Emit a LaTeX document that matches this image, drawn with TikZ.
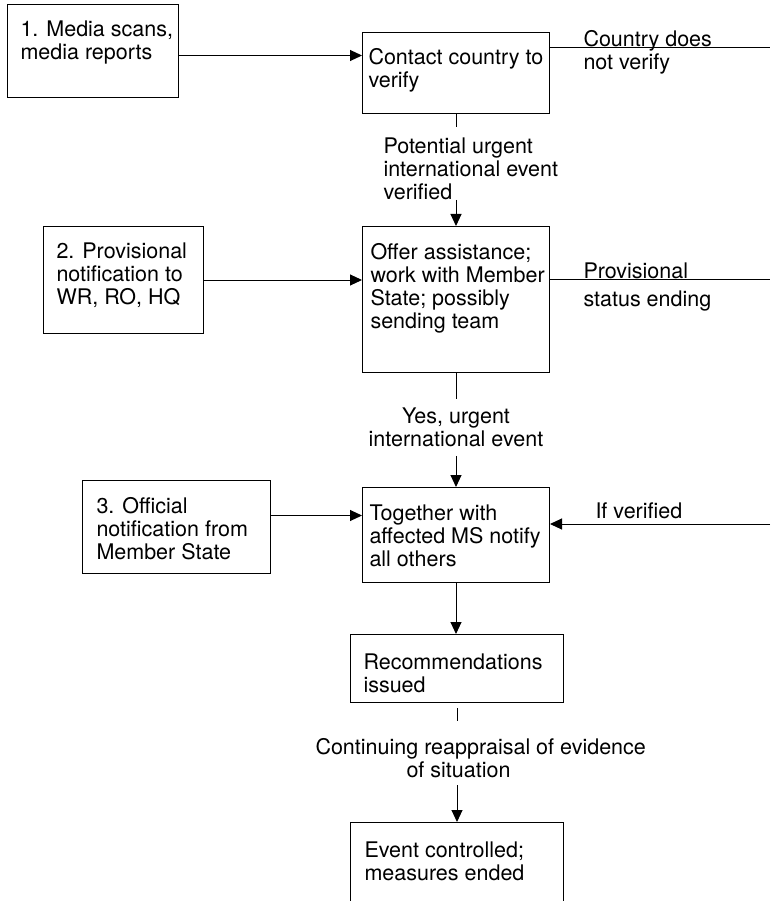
\documentclass[tikz,border=0pt]{standalone}
\usepackage{fontspec}
\setmainfont{TeX Gyre Heros}
\usepackage{tikz}
\usetikzlibrary{positioning}
\usetikzlibrary{arrows.meta}

\begin{document}
\begin{tikzpicture}[
    x=1pt, y=-1pt,
    font=\fontsize{21.5pt}{23pt}\selectfont,
    frame/.style={draw,line width=1pt,anchor=north west,inner sep=0pt},
    boxtext/.style={align=left,inner sep=0pt},
    lbl/.style={align=left,inner sep=0pt,anchor=north west},
    arr/.style={-{Triangle[length=12pt,width=11pt]}},
    every path/.style={line width=1pt}
    ]
    \useasboundingbox (0,0) rectangle (770,901);

    % boxes
    \node[frame, minimum width=171pt, minimum height=93pt] (media) at (7,4) {};
    \node[frame, minimum width=187pt, minimum height=81pt] (contact) at (362,32) {};
    \node[frame, minimum width=160pt, minimum height=107pt] (prov) at (43,226) {};
    \node[frame, minimum width=187pt, minimum height=146pt] (offer) at (362,226) {};
    \node[frame, minimum width=188pt, minimum height=93pt] (official) at (82,480) {};
    \node[frame, minimum width=187pt, minimum height=95pt] (together) at (362,487) {};
    \node[frame, minimum width=213pt, minimum height=68pt] (rec) at (350,634) {};
    \node[frame, minimum width=213pt, minimum height=100pt] (event) at (350,822) {};

    % box texts
    \node[boxtext, below right=16pt and 13pt of media.north west] (media text) {1. Media scans,\\media reports};
    \node[boxtext, below right=16pt and 6pt of contact.north west] (contact text) {Contact country to\\verify};
    \node[boxtext, below right=16pt and 13pt of prov.north west] (prov text) {2. Provisional\\notification to\\WR, RO, HQ};
    \node[boxtext, below right=17pt and 8pt of offer.north west] (offer text) {Offer assistance;\\work with Member\\State; possibly\\sending team};
    \node[boxtext, below right=17pt and 14pt of official.north west] (official text) {3. Official\\notification from\\Member State};
    \node[boxtext, below right=17pt and 7pt of together.north west] (together text) {Together with\\affected MS notify\\all others};
    \node[boxtext, below right=19pt and 13pt of rec.north west] (rec text) {Recommendations\\issued};
    \node[boxtext, below right=19pt and 14pt of event.north west] (event text) {Event controlled;\\measures ended};

    % labels
    \node[lbl] (notverify) at (583,30) {Country does\\not verify};
    \node[lbl] (potential) at (383,137) {Potential urgent\\international event\\verified};
    \node[lbl] (ending) at (583,262) {Provisional\\[5pt]status ending};
    \node[lbl, align=center, anchor=north] (urgent) at (456,407) {Yes, urgent\\international event};
    \node[lbl] (ifverified) at (595,502) {If verified};
    \node[lbl] (reappraisal) at (315,738) {Continuing reappraisal of evidence\\\hspace*{91pt}of situation};

    % free ends at the right margin
    \coordinate (edgeA) at (770,48);
    \coordinate (edgeB) at (770,279);
    \coordinate (edgeC) at (770,524);

    % connectors
    \draw[arr] ([yshift=-4.5pt]media.east) -- ([yshift=-4.5pt]media.east -| contact.west);
    \draw (edgeA -| contact.east) -- (edgeA);
    \draw[shorten >=10pt] (contact.south) -- (contact.south |- potential.north);
    \draw[arr] (potential.south -| offer.north) -- (offer.north);
    \draw[arr] (prov.east) -- (prov.east -| offer.west);
    \draw (edgeB -| offer.east) -- (edgeB);
    \draw[shorten >=8pt] (offer.south) -- (offer.south |- urgent.north);
    \draw[arr, shorten <=9pt] (urgent.south -| together.north) -- (together.north);
    \draw[arr] ([yshift=11.5pt]official.east) -- ([yshift=11.5pt]official.east -| together.west);
    \draw[arr] (edgeC) -- (edgeC -| together.east);
    \draw[arr] (together.south) -- (together.south |- rec.north);
    \draw[shorten <=5pt, shorten >=17pt] (rec.south) -- (rec.south |- reappraisal.north);
    \draw[arr, shorten <=7pt] (reappraisal.south -| event.north) -- (event.north);

  \end{tikzpicture}
\end{document}
